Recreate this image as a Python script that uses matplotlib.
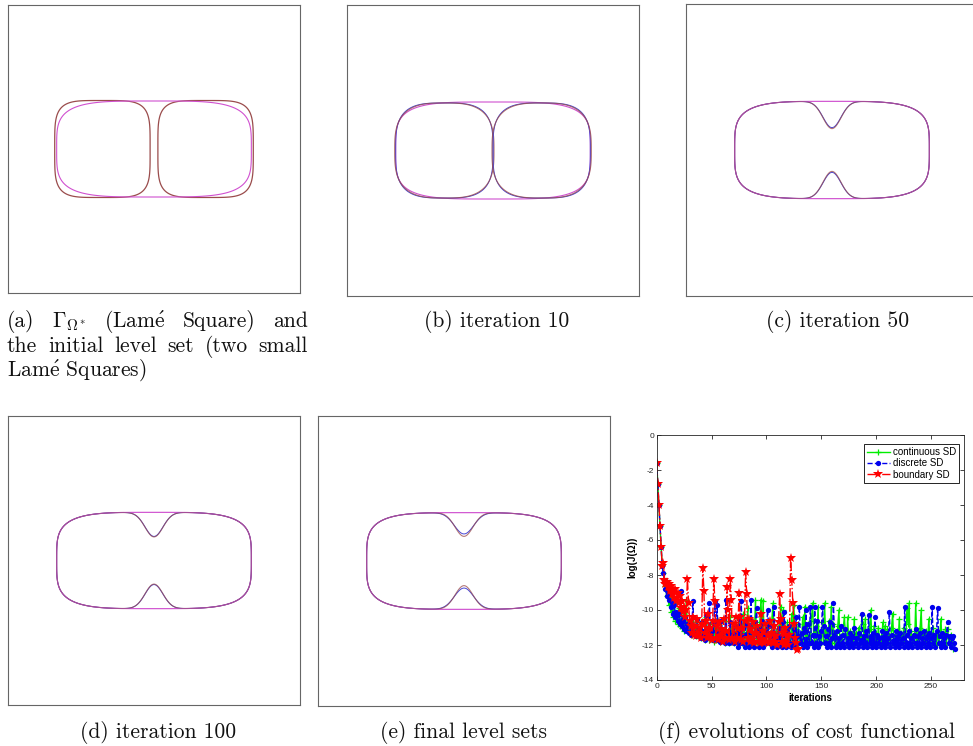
import numpy as np
import matplotlib.pyplot as plt

plt.rcParams['axes.unicode_minus'] = False
plt.rcParams['mathtext.fontset'] = 'cm'

# log of the cost functional, one value per iteration
continuous_sd = [
    -1.6, -2.8, -4.0, -5.2, -6.4, -7.4, -7.9, -8.2, -8.6, -9.2,
    -8.9, -9.7, -9.3, -10.1, -9.8, -10.4, -9.6, -10.6, -10.2, -10.8,
    -9.9, -10.9, -10.5, -11.0, -10.3, -11.2, -10.7, -9.4, -11.1, -10.6,
    -11.3, -10.8, -11.4, -10.5, -11.3, -11.0, -11.5, -10.7, -11.4, -11.1,
    -11.6, -10.6, -11.5, -11.2, -11.7, -10.4, -11.5, -11.0, -11.7, -10.8,
    -11.6, -11.2, -11.8, -10.9, -11.7, -10.5, -11.6, -11.1, -11.8, -10.7,
    -11.7, -11.3, -11.9, -10.6, -11.7, -11.2, -11.9, -10.4, -11.8, -11.0,
    -11.9, -10.8, -11.7, -11.3, -11.9, -10.5, -11.8, -11.1, -11.9, -10.2,
    -11.8, -11.3, -11.9, -9.9, -11.7, -11.2, -11.9, -10.6, -11.8, -11.4,
    -9.4, -11.8, -11.2, -11.9, -10.7, -9.4, -11.4, -9.5, -11.9, -11.1,
    -11.8, -10.8, -11.9, -11.3, -11.9, -10.5, -9.6, -11.8, -11.9, -11.2,
    -11.8, -10.9, -11.9, -9.8, -11.9, -10.0, -11.8, -11.2, -11.9, -10.7,
    -11.9, -11.3, -11.9, -10.2, -11.8, -9.7, -11.9, -11.1, -11.9, -10.8,
    -11.9, -11.4, -11.9, -10.4, -11.8, -9.8, -11.9, -10.9, -11.9, -11.4,
    -11.9, -10.6, -9.6, -11.3, -12.0, -10.9, -11.9, -9.8, -11.9, -11.3,
    -11.9, -10.7, -11.8, -9.6, -11.9, -11.2, -12.0, -10.6, -11.9, -9.8,
    -11.9, -10.8, -11.9, -11.3, -12.0, -10.9, -10.0, -11.9, -11.5, -11.9,
    -11.0, -10.4, -11.4, -12.0, -10.4, -11.9, -11.2, -12.0, -11.5, -11.9,
    -10.5, -11.9, -11.3, -12.0, -11.0, -11.9, -11.5, -10.3, -10.8, -11.9,
    -10.5, -11.9, -11.4, -12.0, -11.1, -10.0, -11.6, -12.0, -10.9, -11.9,
    -11.3, -12.0, -11.0, -11.9, -11.5, -12.0, -10.7, -11.9, -10.9, -12.0,
    -11.1, -11.9, -11.4, -12.0, -11.0, -10.2, -11.9, -11.4, -12.0, -11.2,
    -11.9, -10.5, -11.9, -11.3, -12.0, -11.0, -11.9, -11.5, -9.9, -10.8,
    -9.6, -11.9, -11.2, -12.0, -11.4, -11.9, -9.6, -11.9, -11.3, -12.0,
    -11.0, -10.0, -11.9, -11.4, -12.0, -11.2, -11.9, -11.5, -10.5, -11.9,
    -11.3, -12.0, -11.0, -11.9, -11.5, -12.0, -11.2, -11.9, -11.4, -10.5,
    -11.9, -11.3, -12.0, -11.1, -11.9, -11.1, -11.6, -12.0, -11.4, -11.9,
    -12.2,
]

discrete_sd = [
    -1.6, -2.8, -4.0, -5.2, -6.4, -7.5, -7.9, -8.3, -8.8, -9.2,
    -9.0, -9.4, -9.1, -9.8, -9.5, -10.2, -9.7, -10.4, -10.1, -10.6,
    -10.2, -10.8, -8.9, -10.9, -10.5, -11.1, -10.4, -11.2, -10.8, -11.3,
    -10.6, -11.4, -11.0, -9.5, -11.3, -10.9, -11.5, -10.5, -11.4, -11.1,
    -11.6, -10.7, -11.5, -11.2, -11.7, -10.3, -11.6, -11.1, -9.6, -11.5,
    -11.2, -11.7, -10.8, -9.5, -11.6, -9.7, -11.7, -11.3, -11.8, -10.6,
    -11.7, -11.2, -11.9, -9.4, -11.8, -11.3, -11.9, -10.7, -11.8, -11.4,
    -11.9, -10.9, -11.8, -11.3, -12.1, -10.5, -11.9, -9.5, -11.9, -11.4,
    -12.1, -10.8, -11.9, -11.4, -12.1, -11.0, -9.4, -11.9, -11.3, -12.1,
    -10.7, -9.9, -11.5, -12.1, -11.1, -11.9, -10.6, -12.1, -11.4, -11.9,
    -11.2, -10.0, -10.9, -11.9, -11.5, -12.1, -11.3, -9.8, -11.9, -11.4,
    -12.1, -11.0, -11.9, -11.5, -12.1, -10.7, -10.1, -11.4, -12.1, -11.2,
    -11.9, -10.9, -12.1, -11.4, -11.9, -11.1, -12.1, -10.4, -11.9, -11.5,
    -9.8, -11.9, -11.3, -12.1, -11.0, -11.9, -10.0, -12.1, -10.8, -11.9,
    -9.8, -11.9, -11.4, -12.1, -9.8, -11.9, -10.6, -12.1, -11.5, -11.9,
    -11.2, -9.8, -10.9, -11.9, -11.5, -12.1, -11.1, -11.9, -10.7, -12.1,
    -11.6, -9.6, -11.4, -12.1, -11.2, -11.9, -11.6, -12.1, -10.9, -11.9,
    -11.4, -12.1, -11.1, -11.9, -11.6, -12.1, -11.3, -11.9, -11.5, -12.1,
    -11.0, -11.9, -11.6, -12.1, -11.3, -11.9, -11.7, -10.2, -12.1, -11.5,
    -11.9, -11.2, -12.1, -10.3, -11.9, -11.5, -12.1, -11.3, -11.9, -10.4,
    -12.1, -11.4, -11.9, -11.6, -12.1, -11.2, -11.9, -11.5, -12.1, -11.3,
    -11.9, -11.6, -10.1, -12.1, -11.4, -11.9, -11.7, -12.1, -11.2, -11.9,
    -11.5, -12.1, -11.3, -11.9, -11.6, -12.1, -9.8, -11.9, -11.4, -12.1,
    -11.2, -11.9, -11.6, -12.1, -11.4, -11.9, -11.1, -12.1, -11.5, -11.9,
    -11.3, -12.1, -11.6, -11.9, -11.2, -12.1, -11.5, -11.9, -11.3, -12.1,
    -11.6, -9.8, -11.9, -11.4, -12.1, -11.2, -9.9, -11.9, -11.5, -12.1,
    -11.3, -11.9, -11.6, -12.1, -11.4, -10.7, -11.9, -11.5, -12.1, -11.6,
    -11.5, -11.9, -12.2,
]

boundary_sd = [
    -1.6, -2.8, -4.0, -5.2, -6.4, -7.5, -7.3, -8.3, -8.5, -8.4,
    -8.7, -8.5, -8.9, -8.6, -9.1, -8.8, -9.3, -8.8, -9.5, -9.0,
    -9.6, -9.2, -9.9, -9.5, -10.1, -9.8, -10.4, -10.0, -8.2, -9.6,
    -10.6, -10.9, -11.3, -10.4, -11.4, -10.9, -11.5, -10.5, -11.4, -11.0,
    -11.6, -10.8, -7.6, -8.9, -11.3, -10.6, -11.6, -10.2, -11.5, -11.0,
    -11.7, -10.6, -8.2, -9.5, -11.6, -10.9, -11.7, -10.7, -11.5, -11.1,
    -11.8, -10.5, -11.6, -11.2, -8.7, -10.0, -11.7, -8.2, -9.4, -11.6,
    -10.8, -11.8, -10.4, -11.6, -11.1, -9.0, -10.4, -11.7, -11.0, -11.8,
    -10.6, -7.8, -9.1, -11.6, -10.5, -11.8, -11.1, -11.7, -10.7, -11.9,
    -11.3, -10.9, -11.8, -11.4, -11.9, -10.2, -11.7, -11.2, -11.9, -10.8,
    -11.8, -11.4, -11.9, -10.6, -11.8, -11.3, -11.9, -10.9, -11.8, -11.5,
    -12.0, -10.7, -9.1, -10.5, -11.8, -11.3, -12.0, -11.0, -11.9, -11.5,
    -12.0, -11.4, -7.0, -8.3, -9.6, -10.8, -11.6, -11.9, -12.3, -12.2,
]

iter_ticks = [0, 50, 100, 150, 200, 250]
cost_ticks = [0, -2, -4, -6, -8, -10, -12, -14]

# Lame squares: target and the two small initial ones
target = dict(a=1.0, b=0.5, n=4)
init_centers = [-0.53, 0.53]
init_size = (0.49, 0.505, 4.5)
# iteration 10: two lobes that have just met
lobe_centers = [-0.5, 0.5]
lobe_size = (0.51, 0.49, 3.0)
lobe_size_blue = (0.50, 0.49, 3.3)
# later iterations: neck depth at top and bottom
neck_depth = [0.28, 0.255, 0.245]
neck_depth_blue = [0.27, 0.25, 0.22]
neck_width = [0.13, 0.13, 0.14]

W, H = 973, 746
fig = plt.figure(figsize=(W / 100, H / 100), dpi=100)


def px_axes(x0, y0, x1, y1):
    return fig.add_axes([x0 / W, 1 - y1 / H, (x1 - x0) / W, (y1 - y0) / H])


g = np.linspace(-1.5, 1.5, 901)
X, Y = np.meshgrid(g, g)

MAG = '#d050d0'
BROWN = '#9a4c4c'
BLUE = '#4646d6'


def lame(cx, a, b, n, depth=0.0, w=0.13):
    bb = b - depth * np.exp(-((X - cx) / w) ** 2)
    return (np.abs(X - cx) / a) ** n + (np.abs(Y) / bb) ** n - 1


def frame(ax):
    ax.set_xlim(-1.5, 1.5)
    ax.set_ylim(-1.5, 1.5)
    ax.set_xticks([])
    ax.set_yticks([])
    for s in ax.spines.values():
        s.set_color('#666666')
        s.set_linewidth(0.8)


def curve(ax, phi, color, lw, alpha=1.0):
    ax.contour(X, Y, phi, levels=[0], colors=[color], linewidths=lw, alpha=alpha)


tgt = lame(0, target['a'], target['b'], target['n'])

# (a) target and initial level set
ax = px_axes(8, 5, 300, 293)
frame(ax)
for cx in init_centers:
    curve(ax, lame(cx, *init_size), BROWN, 0.9)
curve(ax, tgt, MAG, 0.8)

# (b) iteration 10
ax = px_axes(347, 5, 639, 296)
frame(ax)
curve(ax, tgt, MAG, 0.8)
for cx in lobe_centers:
    curve(ax, lame(cx, *lobe_size_blue), BLUE, 0.7)
    curve(ax, lame(cx, *lobe_size), BROWN, 0.8, 0.8)

# (c), (d), (e) necked shapes
boxes = [(686, 4, 978, 296), (8, 416, 300, 705), (318, 416, 610, 706)]
for bx, d, db, w in zip(boxes, neck_depth, neck_depth_blue, neck_width):
    ax = px_axes(*bx)
    frame(ax)
    curve(ax, tgt, MAG, 0.8)
    curve(ax, lame(0, target['a'], target['b'], target['n'], db, w), BLUE, 0.7)
    curve(ax, lame(0, target['a'], target['b'], target['n'], d, 0.13), BROWN, 0.8, 0.75)
    curve(ax, tgt, MAG, 0.5, 0.6)

# (f) cost functional
ax = px_axes(656.7, 435, 964, 680)
ax.plot(np.arange(len(continuous_sd)), continuous_sd, '-', color='#00ee00', lw=1.0,
        marker='+', ms=5, mew=0.9, label='continuous SD')
ax.plot(np.arange(len(discrete_sd)), discrete_sd, '--', color='#0000ee', lw=1.0,
        marker='o', ms=3.8, mew=0, label='discrete SD')
ax.plot(np.arange(len(boundary_sd)), boundary_sd, '-.', color='#ff0000', lw=1.0,
        marker='*', ms=7, mew=0, label='boundary SD')
ax.set_xlim(0, 280)
ax.set_ylim(-14, 0)
ax.set_xticks(iter_ticks)
ax.set_yticks(cost_ticks)
ax.tick_params(direction='in', top=True, right=True, length=3, width=0.6,
               labelsize=6, pad=2, colors='#262626')
for lab in ax.get_xticklabels() + ax.get_yticklabels():
    lab.set_family('Liberation Sans')
for s in ax.spines.values():
    s.set_color('#262626')
    s.set_linewidth(0.6)
ax.set_xlabel('iterations', fontsize=7, fontweight='bold', family='Liberation Sans', labelpad=2)
ax.set_ylabel('log(J(Ω))', fontsize=7, fontweight='bold', family='Liberation Sans', labelpad=3)
leg = ax.legend(loc='upper right', bbox_to_anchor=(0.984, 0.963), borderaxespad=0,
                handlelength=2.4, handletextpad=0.3, labelspacing=0.15,
                borderpad=0.3, fancybox=False, framealpha=1,
                prop={'family': 'Liberation Sans', 'size': 7})
leg.get_frame().set_edgecolor('black')
leg.get_frame().set_linewidth(0.6)

# captions
CAP = dict(family='cmr10', fontsize=15.5, va='baseline', color='#111111')
r = fig.canvas.get_renderer()


def justified(words, x0, x1, y):
    items = [fig.text(0, 1 - y / H, wd, ha='left', **CAP) for wd in words]
    widths = [t.get_window_extent(r).width for t in items]
    gap = (x1 - x0 - sum(widths)) / (len(words) - 1)
    x = x0
    for t, wd in zip(items, widths):
        t.set_x(x / W)
        x += wd + gap


justified(['(a)', r'$\Gamma_{\Omega^*}$', r'(Lam$\acute{\mathrm{e}}$', 'Square)', 'and'], 7, 308, 327)
justified(['the', 'initial', 'level', 'set', '(two', 'small'], 7, 308, 351.5)
fig.text(7 / W, 1 - 376 / H, r'Lam$\acute{\mathrm{e}}$ Squares)', ha='left', **CAP)

fig.text(497 / W, 1 - 327 / H, '(b) iteration 10', ha='center', **CAP)
fig.text(838 / W, 1 - 327 / H, '(c) iteration 50', ha='center', **CAP)
fig.text(158 / W, 1 - 738 / H, '(d) iteration 100', ha='center', **CAP)
fig.text(464 / W, 1 - 738 / H, '(e) final level sets', ha='center', **CAP)
fig.text(806 / W, 1 - 738 / H, '(f) evolutions of cost functional', ha='center', **CAP)

fig.savefig('out.png', dpi=100)
